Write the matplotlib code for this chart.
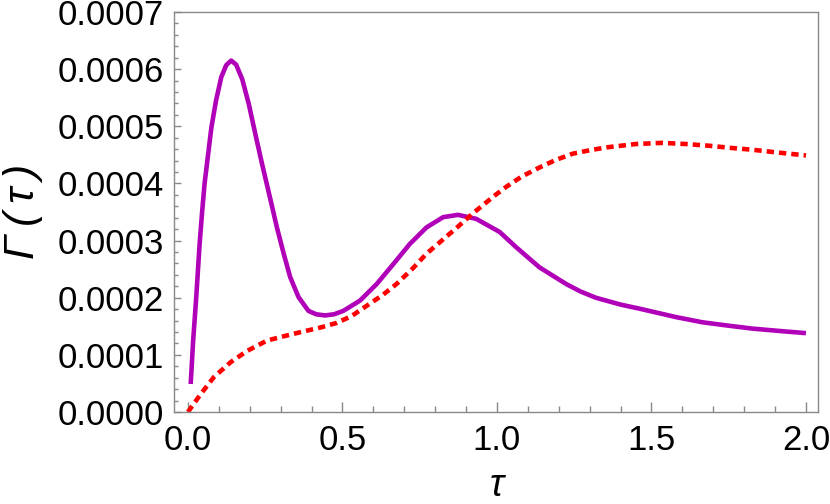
"""Gamma(tau) versus tau, two curves, Mathematica style frame"""

import matplotlib
matplotlib.use('Agg')
import matplotlib.pyplot as plt
import numpy as np
from matplotlib.ticker import MultipleLocator, FormatStrFormatter

# purple solid curve (values in units of 1e-4)
tau_a = [0.009, 0.017, 0.027, 0.038, 0.046, 0.054, 0.063, 0.076, 0.091, 0.108,
         0.124, 0.140, 0.156, 0.176, 0.197, 0.218, 0.240, 0.267, 0.288, 0.310,
         0.331, 0.358, 0.390, 0.415, 0.444, 0.473, 0.503, 0.557, 0.611, 0.665,
         0.718, 0.772, 0.826, 0.874, 0.933, 0.976, 1.009, 1.063, 1.138, 1.224,
         1.27, 1.32, 1.40, 1.46, 1.50, 1.58, 1.665, 1.75, 1.826, 1.91, 2.0]
gamma_a = [0.49, 1.25, 2.01, 2.95, 3.50, 4.00, 4.40, 4.98, 5.45, 5.86,
           6.07, 6.15, 6.08, 5.82, 5.39, 4.87, 4.34, 3.72, 3.23, 2.77,
           2.36, 2.01, 1.77, 1.71, 1.69, 1.71, 1.77, 1.95, 2.24, 2.59,
           2.94, 3.23, 3.41, 3.45, 3.38, 3.25, 3.15, 2.88, 2.53, 2.24,
           2.11, 2.00, 1.88, 1.81, 1.76, 1.66, 1.57, 1.51, 1.46, 1.42, 1.38]

# red dotted curve (values in units of 1e-4)
tau_b = [0.0, 0.041, 0.084, 0.138, 0.192, 0.256, 0.321, 0.374, 0.430, 0.482,
         0.530, 0.579, 0.631, 0.675, 0.729, 0.772, 0.815, 0.869, 0.923, 0.966,
         0.998, 1.03, 1.08, 1.138, 1.19, 1.245, 1.30, 1.353, 1.45, 1.535,
         1.61, 1.686, 1.76, 1.826, 1.91, 2.0]
gamma_b = [0.0, 0.31, 0.61, 0.87, 1.07, 1.25, 1.34, 1.41, 1.48, 1.56,
           1.68, 1.86, 2.05, 2.24, 2.52, 2.77, 2.97, 3.22, 3.48, 3.67,
           3.81, 3.94, 4.12, 4.28, 4.41, 4.52, 4.58, 4.63, 4.69, 4.71,
           4.69, 4.66, 4.62, 4.59, 4.54, 4.49]

plt.rcParams['font.family'] = ['Liberation Sans', 'DejaVu Sans']

fig = plt.figure(figsize=(8.3, 5.04), dpi=100)
ax = fig.add_axes([174 / 830, 92 / 504, 644 / 830, 400 / 504])

ax.plot(tau_a, np.array(gamma_a) * 1e-4, color='#B000B8', lw=3.3,
        solid_capstyle='butt', solid_joinstyle='round')
line, = ax.plot(tau_b, np.array(gamma_b) * 1e-4, color='#FF0000', lw=3.3,
                dash_capstyle='butt')
line.set_dashes((1.6, 1.1))

ax.set_xlim(-0.045, 2.039)
ax.set_ylim(0, 0.0007)

ax.xaxis.set_major_locator(MultipleLocator(0.5))
ax.xaxis.set_minor_locator(MultipleLocator(0.1))
ax.yaxis.set_major_locator(MultipleLocator(0.0001))
ax.yaxis.set_minor_locator(MultipleLocator(0.00002))
ax.xaxis.set_major_formatter(FormatStrFormatter('%.1f'))
ax.yaxis.set_major_formatter(FormatStrFormatter('%.4f'))

ax.tick_params(which='both', direction='in', color='#888888', width=1,
               top=False, right=False, labelsize=25, labelcolor='black')
ax.tick_params(axis='y', which='major', length=5, pad=7)
ax.tick_params(axis='y', which='minor', length=3)
ax.tick_params(axis='x', which='major', length=7, pad=9)
ax.tick_params(axis='x', which='minor', length=4)

for side in ax.spines.values():
    side.set_color('#888888')
    side.set_linewidth(1)

fig.text(23 / 830, 1 - 211 / 504, 'Γ\u2009(\u2009τ\u2009)', rotation=90,
         fontsize=31, style='italic', ha='center', va='center')
fig.text(497 / 830, 1 - 496 / 504, 'τ', fontsize=27, style='italic',
         ha='center', va='baseline')

fig.savefig('out.png', dpi=100)
